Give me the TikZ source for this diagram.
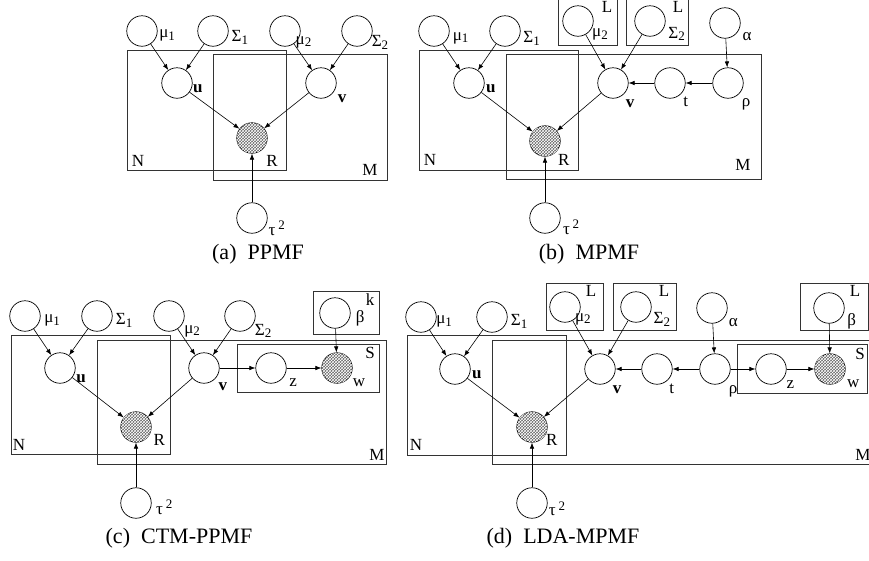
\documentclass[tikz,border=0pt]{standalone}
\usepackage{fontspec}
\setmainfont{Liberation Serif}
\usetikzlibrary{arrows.meta,patterns}
\newcommand\idx[1]{\raisebox{-0.35ex}{\fontsize{13}{13}\selectfont #1}}
\newcommand\pw[1]{\,\raisebox{0.75ex}{\fontsize{13}{13}\selectfont #1}}

\begin{document}
\begin{tikzpicture}[x=1pt, y=1pt,
var/.style={circle, draw, fill=white, line width=0.7pt, minimum size=30.5pt, inner sep=0pt},
obs/.style={var, fill=black!60, postaction={pattern=crosshatch, pattern color=white}},
plate/.style={draw=black!80, line width=0.8pt},
lab/.style={font=\fontsize{17}{17}\selectfont, inner sep=0pt, anchor=center},
arr/.style={-{Latex[length=6pt, width=4.5pt]}, line width=0.6pt},
capt/.style={font=\fontsize{22}{22}\selectfont, inner sep=0pt}
]
\useasboundingbox (0,0) rectangle (869,-560);

% (a) PPMF
\draw[plate] (127,-50) rectangle (286,-170);
\draw[plate] (213,-54) rectangle (387,-180);
\node[lab] (Na) at (138,-161) {N};
\node[lab] (Ma) at (370,-170) {M};
\node[var, label={[lab, label distance=10pt]-11:μ\idx{1}}] (mu1a) at (142,-31) {};
\node[var, label={[lab, label distance=12pt]-13:Σ\idx{1}}] (sig1a) at (213,-31) {};
\node[var, label={[lab, label distance=6pt]-31:μ\idx{2}}] (mu2a) at (285,-31) {};
\node[var, label={[lab, label distance=10pt]-26:Σ\idx{2}}] (sig2a) at (357,-31) {};
\node[var, label={[lab, label distance=6pt]-16:\textbf{u}}] (ua) at (177,-83) {};
\node[var, label={[lab, label distance=11pt]-37:\textbf{v}}] (va) at (321,-83) {};
\node[obs, label={[lab, label distance=15pt]-49:R}] (Ra) at (252,-138) {};
\node[var, label={[lab, label distance=11pt]-22:τ\pw{2}}] (taua) at (252,-218) {};
\draw[arr] (mu1a) -- (ua);
\draw[arr] (sig1a) -- (ua);
\draw[arr] (mu2a) -- (va);
\draw[arr] (sig2a) -- (va);
\draw[arr] (ua) -- (Ra);
\draw[arr] (va) -- (Ra);
\draw[arr] (taua) -- (Ra);
\node[capt] (capa) at (258,-254) {(a)\enspace PPMF};

% (b) MPMF
\draw[plate] (558,3) rectangle (617,-45);
\draw[plate] (626,3) rectangle (688,-45);
\draw[plate] (419,-50) rectangle (578,-170);
\draw[plate] (506,-54) rectangle (761,-179);
\node[lab] (L1b) at (607,-7) {L};
\node[lab] (L2b) at (678,-7) {L};
\node[lab] (Nb) at (430,-160) {N};
\node[lab] (Mb) at (743,-165) {M};
\node[var, label={[lab, label distance=12pt]-15:μ\idx{1}}] (mu1b) at (434,-31) {};
\node[var, label={[lab, label distance=12pt]-15:Σ\idx{1}}] (sig1b) at (505,-31) {};
\node[var, label={[lab, label distance=10pt]-31:μ\idx{2}}] (mu2b) at (578,-21) {};
\node[var, label={[lab, label distance=14pt]-26:Σ\idx{2}}] (sig2b) at (650,-21) {};
\node[var, label={[lab, label distance=10pt]-31:α}] (alb) at (725,-23) {};
\node[var, label={[lab, label distance=7pt]-15:\textbf{u}}] (ub) at (469,-83) {};
\node[var, label={[lab, label distance=11pt]-50:\textbf{v}}] (vb) at (613,-83) {};
\node[var, label={[lab, label distance=9pt]-50:t}] (tb) at (670,-83) {};
\node[var, label={[lab, label distance=12pt]-49:ρ}] (rhob) at (728,-83) {};
\node[obs, label={[lab, label distance=11pt]-45:R}] (Rb) at (545,-141) {};
\node[var, label={[lab, label distance=12pt]-19:τ\pw{2}}] (taub) at (545,-218) {};
\draw[arr] (mu1b) -- (ub);
\draw[arr] (sig1b) -- (ub);
\draw[arr] (mu2b) -- (vb);
\draw[arr] (sig2b) -- (vb);
\draw[arr] (alb) -- (rhob);
\draw[arr] (rhob) -- (tb);
\draw[arr] (tb) -- (vb);
\draw[arr] (ub) -- (Rb);
\draw[arr] (vb) -- (Rb);
\draw[arr] (taub) -- (Rb);
\node[capt] (capb) at (589,-254) {(b)\enspace MPMF};

% (c) CTM-PPMF
\draw[plate] (313,-291) rectangle (379,-334);
\draw[plate] (11,-335) rectangle (170,-454);
\draw[plate] (97,-340) rectangle (386,-464);
\draw[plate] (237,-344) rectangle (379,-392);
\node[lab] (kc) at (370,-300) {k};
\node[lab] (Sc) at (370,-353) {S};
\node[lab] (Nc) at (19,-445) {N};
\node[lab] (Mc) at (377,-455) {M};
\node[var, label={[lab, label distance=12pt]-10:μ\idx{1}}] (mu1c) at (25,-316) {};
\node[var, label={[lab, label distance=12pt]-10:Σ\idx{1}}] (sig1c) at (97,-316) {};
\node[var, label={[lab, label distance=12pt]-33:μ\idx{2}}] (mu2c) at (169,-316) {};
\node[var, label={[lab, label distance=12pt]-33:Σ\idx{2}}] (sig2c) at (240,-316) {};
\node[var, label={[lab, label distance=10pt]-11:β}] (betac) at (335,-313) {};
\node[var, label={[lab, label distance=8pt]-26:\textbf{u}}] (uc) at (60,-368) {};
\node[var, label={[lab, label distance=11pt]-45:\textbf{v}}] (vc) at (204,-368) {};
\node[var, label={[lab, label distance=11pt]-34:z}] (zc) at (271,-368) {};
\node[obs, label={[lab, label distance=11pt]-34:w}] (wc) at (337,-368) {};
\node[obs, label={[lab, label distance=11pt]-29:R}] (Rc) at (136,-427) {};
\node[var, label={[lab, label distance=13pt]-8:τ\pw{2}}] (tauc) at (136,-503) {};
\draw[arr] (mu1c) -- (uc);
\draw[arr] (sig1c) -- (uc);
\draw[arr] (mu2c) -- (vc);
\draw[arr] (sig2c) -- (vc);
\draw[arr] (vc) -- (zc);
\draw[arr] (zc) -- (wc);
\draw[arr] (betac) -- (wc);
\draw[arr] (uc) -- (Rc);
\draw[arr] (vc) -- (Rc);
\draw[arr] (tauc) -- (Rc);
\node[capt] (capc) at (179,-538) {(c)\enspace CTM-PPMF};

% (d) LDA-MPMF
\draw[plate] (546,-283) rectangle (603,-330);
\draw[plate] (613,-283) rectangle (676,-330);
\draw[plate] (800,-283) rectangle (868,-330);
\draw[plate] (407,-335) rectangle (566,-455);
\draw[plate] (492,-340) rectangle (880,-464);
\draw[plate] (737,-344) rectangle (867,-393);
\node[lab] (L1d) at (591,-291) {L};
\node[lab] (L2d) at (664,-291) {L};
\node[lab] (L3d) at (855,-291) {L};
\node[lab] (Sd) at (860,-354) {S};
\node[lab] (Nd) at (416,-445) {N};
\node[lab] (Md) at (863,-455) {M};
\node[var, label={[lab, label distance=8pt]-12:μ\idx{1}}] (mu1d) at (421,-317) {};
\node[var, label={[lab, label distance=12pt]-10:Σ\idx{1}}] (sig1d) at (492,-317) {};
\node[var, label={[lab, label distance=6pt]-34:μ\idx{2}}] (mu2d) at (565,-307) {};
\node[var, label={[lab, label distance=13pt]-25:Σ\idx{2}}] (sig2d) at (636,-307) {};
\node[var, label={[lab, label distance=10pt]-34:α}] (ald) at (712,-308) {};
\node[var, label={[lab, label distance=11pt]-31:β}] (betad) at (829,-308) {};
\node[var, label={[lab, label distance=7pt]-15:\textbf{u}}] (ud) at (455,-369) {};
\node[var, label={[lab, label distance=11pt]-50:\textbf{v}}] (vd) at (600,-369) {};
\node[var, label={[lab, label distance=9pt]-53:t}] (td) at (657,-369) {};
\node[var, label={[lab, label distance=13pt]-51:ρ}] (rhod) at (715,-369) {};
\node[var, label={[lab, label distance=9pt]-38:z}] (zd) at (771,-369) {};
\node[obs, label={[lab, label distance=12pt]-33:w}] (wd) at (830,-369) {};
\node[obs, label={[lab, label distance=8pt]-33:R}] (Rd) at (532,-427) {};
\node[var, label={[lab, label distance=10pt]-13:τ\pw{2}}] (taud) at (532,-503) {};
\draw[arr] (mu1d) -- (ud);
\draw[arr] (sig1d) -- (ud);
\draw[arr] (mu2d) -- (vd);
\draw[arr] (sig2d) -- (vd);
\draw[arr] (ald) -- (rhod);
\draw[arr] (rhod) -- (td);
\draw[arr] (td) -- (vd);
\draw[arr] (rhod) -- (zd);
\draw[arr] (zd) -- (wd);
\draw[arr] (betad) -- (wd);
\draw[arr] (ud) -- (Rd);
\draw[arr] (vd) -- (Rd);
\draw[arr] (taud) -- (Rd);
\node[capt] (capd) at (563,-538) {(d)\enspace LDA-MPMF};
\end{tikzpicture}
\end{document}
